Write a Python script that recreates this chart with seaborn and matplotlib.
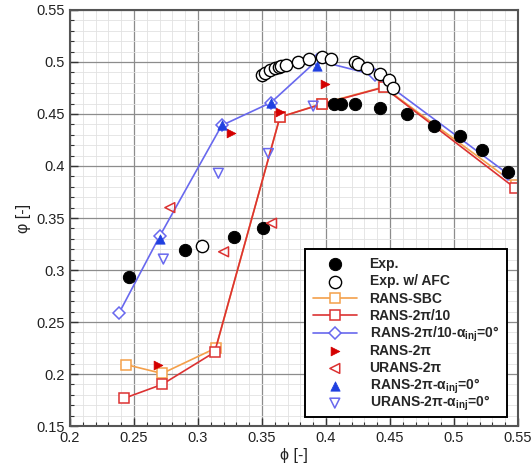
import matplotlib
matplotlib.use("Agg")
import matplotlib.pyplot as plt
import seaborn as sns
from matplotlib.ticker import MultipleLocator, FuncFormatter
from matplotlib.offsetbox import TextArea
from matplotlib.transforms import Bbox

# ---- data ----
exp_x = [0.246, 0.290, 0.328, 0.351, 0.406, 0.412, 0.423, 0.442, 0.463, 0.484, 0.505, 0.522, 0.542]
exp_y = [0.293, 0.319, 0.332, 0.340, 0.460, 0.460, 0.460, 0.456, 0.450, 0.438, 0.429, 0.415, 0.394]

afc_x = [0.303, 0.350, 0.352, 0.356, 0.360, 0.363, 0.365, 0.369, 0.378, 0.387, 0.397,
         0.404, 0.423, 0.425, 0.432, 0.442, 0.4495, 0.452]
afc_y = [0.323, 0.4875, 0.489, 0.492, 0.494, 0.4955, 0.496, 0.497, 0.500, 0.5025, 0.5045,
         0.503, 0.500, 0.498, 0.494, 0.488, 0.483, 0.475]

sbc_x = [0.244, 0.272, 0.314, 0.364, 0.397, 0.445, 0.5485]
sbc_y = [0.209, 0.2005, 0.225, 0.447, 0.460, 0.476, 0.382]

r10_x = [0.242, 0.272, 0.313, 0.364, 0.397, 0.445, 0.548]
r10_y = [0.1765, 0.190, 0.221, 0.447, 0.4596, 0.4756, 0.3785]

b10_x = [0.2385, 0.2703, 0.3185, 0.357, 0.393, 0.438, 0.5425]
b10_y = [0.259, 0.333, 0.439, 0.461, 0.5015, 0.4875, 0.392]

r2pi_x = [0.269, 0.3255, 0.364, 0.399]
r2pi_y = [0.2088, 0.4314, 0.452, 0.4788]

u2pi_x = [0.278, 0.320, 0.3575]
u2pi_y = [0.360, 0.3175, 0.345]

r2pia_x = [0.2703, 0.3185, 0.357, 0.3927]
r2pia_y = [0.330, 0.439, 0.461, 0.496]

u2pia_x = [0.2729, 0.3159, 0.355, 0.390]
u2pia_y = [0.3105, 0.393, 0.412, 0.4576]

SUB = "$_{\\mathregular{inj}}$"
labels = ["Exp.", "Exp. w/ AFC", "RANS-SBC", "RANS-2π/10",
          "RANS-2π/10-α" + SUB + "=0°", "RANS-2π", "URANS-2π",
          "RANS-2π-α" + SUB + "=0°", "URANS-2π-α" + SUB + "=0°"]

x_ticks = [0.2, 0.25, 0.3, 0.35, 0.4, 0.45, 0.5, 0.55]
y_ticks = [0.15, 0.2, 0.25, 0.3, 0.35, 0.4, 0.45, 0.5, 0.55]

# ---- style ----
sns.set_theme(style="white")
plt.rcParams['font.family'] = ['Liberation Sans', 'DejaVu Sans']

ORANGE = "#f4a04a"
RED = "#dc3232"
BLUE = "#6868ee"
DRED = "#d40000"
DBLUE = "#2040e0"

fig = plt.figure(figsize=(5.32, 4.65), dpi=100)
ax = fig.add_axes([70/532, 1-426/465, 448/532, 416/465])

h = []
sns.lineplot(x=sbc_x, y=sbc_y, ax=ax, sort=False, estimator=None, color=ORANGE,
             lw=1.2, marker='s', ms=7, mfc='white', mec=ORANGE, mew=1.1)
h.append(ax.lines[-1])
sns.lineplot(x=r10_x, y=r10_y, ax=ax, sort=False, estimator=None, color=RED,
             lw=1.2, marker='s', ms=7, mfc='white', mec=RED, mew=1.1)
h.append(ax.lines[-1])
sns.lineplot(x=b10_x, y=b10_y, ax=ax, sort=False, estimator=None, color=BLUE,
             lw=1.2, marker='D', ms=6.5, mfc='white', mec=BLUE, mew=1.1)
h.append(ax.lines[-1])

sns.scatterplot(x=exp_x, y=exp_y, ax=ax, color='black', s=78, edgecolor='black', zorder=3)
h_exp = ax.collections[-1]
sns.scatterplot(x=afc_x, y=afc_y, ax=ax, facecolor='white', s=78, edgecolor='black',
                linewidth=1.0, zorder=3)
h_afc = ax.collections[-1]
sns.scatterplot(x=r2pi_x, y=r2pi_y, ax=ax, marker='>', color=DRED, s=40, edgecolor=DRED, zorder=4)
h_r2 = ax.collections[-1]
sns.scatterplot(x=u2pi_x, y=u2pi_y, ax=ax, marker='<', facecolor='none', s=50,
                edgecolor=RED, linewidth=1.1, zorder=4)
h_u2 = ax.collections[-1]
sns.scatterplot(x=r2pia_x, y=r2pia_y, ax=ax, marker='^', color=DBLUE, s=45, edgecolor=DBLUE, zorder=4)
h_r2a = ax.collections[-1]
sns.scatterplot(x=u2pia_x, y=u2pia_y, ax=ax, marker='v', facecolor='none', s=50,
                edgecolor=BLUE, linewidth=1.1, zorder=4)
h_u2a = ax.collections[-1]

handles = [h_exp, h_afc, h[0], h[1], h[2], h_r2, h_u2, h_r2a, h_u2a]

ax.set_xlim(0.2, 0.55)
ax.set_ylim(0.15, 0.55)
ax.set_xticks(x_ticks)
ax.set_yticks(y_ticks)
fmt = FuncFormatter(lambda v, p: f"{v:g}")
ax.xaxis.set_major_formatter(fmt)
ax.yaxis.set_major_formatter(fmt)
ax.xaxis.set_minor_locator(MultipleLocator(0.01))
ax.yaxis.set_minor_locator(MultipleLocator(0.01))
ax.grid(True, which='major', color='#8c8c8c', lw=0.9)
ax.grid(True, which='minor', color='#e2e2e2', lw=0.6)
ax.set_axisbelow(True)
ax.tick_params(which='both', direction='in', bottom=True, left=True, top=False, right=False,
               labelsize=10.5, colors='#333333', labelcolor='#222222')
ax.tick_params(which='major', length=6, width=1)
ax.tick_params(which='minor', length=3, width=0.8)
for sp in ax.spines.values():
    sp.set_color('#555555')
    sp.set_linewidth(1.5)

ax.set_xlabel("ϕ [-]", fontsize=11.5, labelpad=2, color='#222222')
ax.set_ylabel("φ [-]", fontsize=11.5, labelpad=4, color='#222222')

leg = ax.legend(handles, labels, loc='lower right', bbox_to_anchor=(0.99, 0.004),
                frameon=True, fancybox=False, framealpha=1, edgecolor='black',
                prop={'weight': 'bold', 'size': 10}, handlelength=3.2,
                labelspacing=0.24, borderpad=0.55, handletextpad=0.9)
leg.get_frame().set_linewidth(1.4)

# give every legend row the same height (subscripts would otherwise enlarge rows)
_orig_bbox = TextArea.get_bbox
text_areas = []
for col in leg._legend_handle_box.get_children():
    for row in col.get_children():
        for ch in row.get_children():
            if isinstance(ch, TextArea):
                text_areas.append(ch)
ref_area = text_areas[0]


def _uniform_bbox(self, renderer):
    bb = _orig_bbox(self, renderer)
    if getattr(self, "_uniform", False):
        rb = _orig_bbox(ref_area, renderer)
        return Bbox.from_bounds(bb.x0, rb.y0, bb.width, rb.height)
    return bb


TextArea.get_bbox = _uniform_bbox
for ta in text_areas:
    ta._uniform = True

fig.savefig("out.png", dpi=100)
